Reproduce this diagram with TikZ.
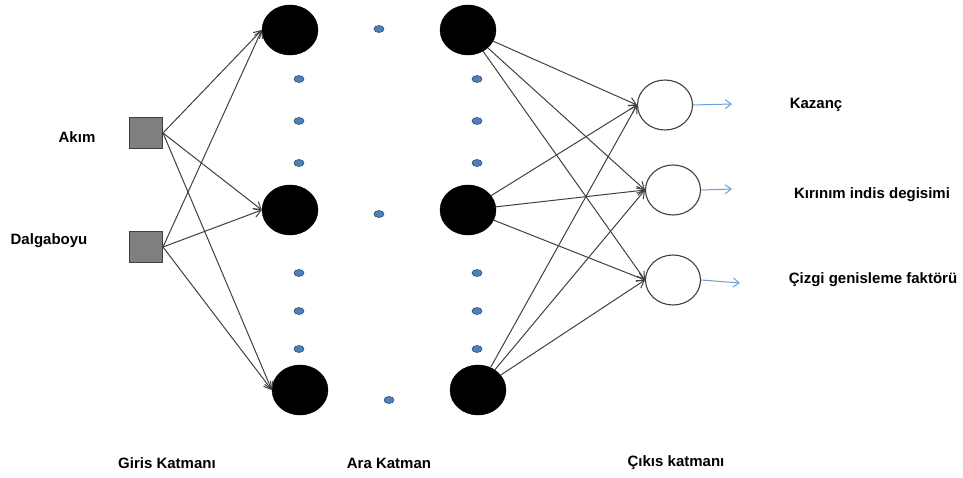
\documentclass[tikz,border=0pt]{standalone}
\usepackage{fontspec}
\setmainfont{Liberation Sans}
\usetikzlibrary{shapes.geometric,arrows.meta}
\definecolor{linkgray}{HTML}{404040}
\definecolor{dotblue}{HTML}{4F81BD}
\definecolor{dotedge}{HTML}{2E4A6E}
\definecolor{outblue}{HTML}{6A9FD8}
\definecolor{boxgray}{HTML}{7F7F7F}
\tikzset{
  neuron/.style={ellipse, fill=black, draw=black, minimum width=56pt, minimum height=50pt, inner sep=0pt},
  outneuron/.style={ellipse, fill=white, draw=linkgray, line width=1.1pt, minimum width=55pt, minimum height=50pt, inner sep=0pt},
  inbox/.style={rectangle, fill=boxgray, draw=linkgray, line width=1pt, minimum width=33pt, minimum height=31pt, inner sep=0pt},
  gapdot/.style={ellipse, fill=dotblue, draw=dotedge, line width=0.6pt, minimum width=10pt, minimum height=7pt, inner sep=0pt},
  link/.style={draw=linkgray, line width=1pt, -{Straight Barb[length=7pt,width=9pt]}},
  outlink/.style={draw=outblue, line width=1pt, -{Straight Barb[length=6pt,width=9pt]}},
  lbl/.style={font=\bfseries\fontsize{15}{17}\selectfont, inner sep=0pt}
}
\begin{document}
\begin{tikzpicture}[x=1pt,y=-1pt]
\useasboundingbox (0,0) rectangle (963,478);

% input units
\node[inbox] (i1) at (146,133) {};
\node[inbox] (i2) at (146,247) {};
\node[lbl] (la) at (77,137) {Akım};
\node[lbl] (ld) at (49,241) {Dalgaboyu};

% hidden layer, left column
\node[neuron] (a1) at (290,30) {};
\node[neuron] (a2) at (290,210) {};
\node[neuron] (a3) at (300,390) {};
% hidden layer, right column
\node[neuron] (b1) at (468,30) {};
\node[neuron] (b2) at (468,210) {};
\node[neuron] (b3) at (478,390) {};

% ellipsis dots between the hidden units
\foreach \y [count=\k] in {79,121,163,273,311,349} {
  \node[gapdot] (dl\k) at (299,\y) {};
  \node[gapdot] (dr\k) at (477,\y) {};
}
\node[gapdot] (dm1) at (379,29) {};
\node[gapdot] (dm2) at (379,214) {};
\node[gapdot] (dm3) at (389,400) {};

% output units
\node[outneuron] (o1) at (665,105) {};
\node[outneuron] (o2) at (673,190) {};
\node[outneuron] (o3) at (673,280) {};

% input -> hidden
\foreach \s in {i1,i2}
  \foreach \t in {a1,a2,a3}
    \draw[link] (\s.east) -- (\t.west);

% hidden -> output
\foreach \s in {b1,b2,b3}
  \foreach \t in {o1,o2,o3}
    \draw[link] (\s) -- (\t.west);

% outputs
\coordinate (e1) at (732,104);
\coordinate (e2) at (732,189);
\coordinate (e3) at (740,283);
\draw[outlink] (o1.east) -- (e1);
\draw[outlink] (o2.east) -- (e2);
\draw[outlink] (o3.east) -- (e3);

\node[lbl] (t1) at (816,105) {Kazanç};
\node[lbl] (t2) at (872,195) {Kırınım indis degisimi};
\node[lbl] (t3) at (873,280) {Çizgi genisleme faktörü};

% layer captions
\node[lbl] (c1) at (167,463) {Giris Katmanı};
\node[lbl] (c2) at (389,463) {Ara Katman};
\node[lbl] (c3) at (676,463) {Çıkıs katmanı};
\end{tikzpicture}
\end{document}
